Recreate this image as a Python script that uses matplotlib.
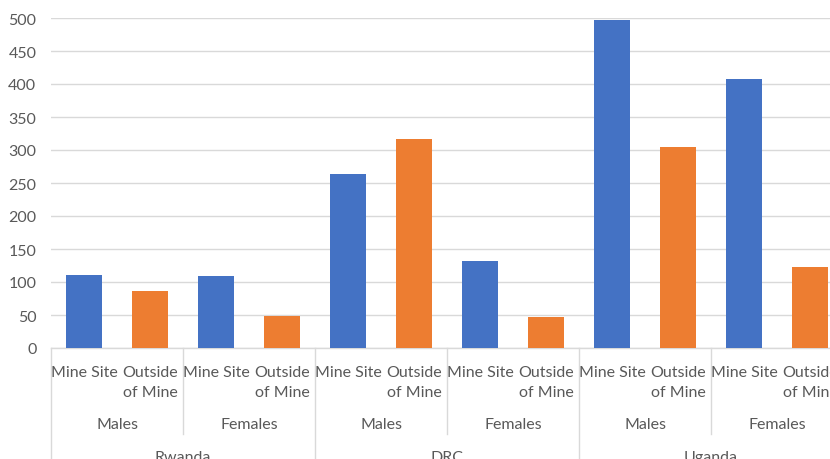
import matplotlib.pyplot as plt
import numpy as np

# survey counts by country / sex / location
countries = ["Rwanda", "DRC", "Uganda"]
sexes = ["Males", "Females"]
locations = ["Mine Site", "Outside\nof Mine"]
mine_site = [110, 109, 264, 132, 497, 408]
outside_mine = [86, 49, 316, 47, 304, 122]

BLUE = "#4472C4"
ORANGE = "#ED7D31"
TEXT = "#595959"
GRID = "#D9D9D9"
FS = 11.5

plt.rcParams["font.family"] = ["Lato", "DejaVu Sans"]

W, H = 830, 460
fig = plt.figure(figsize=(W / 100, H / 100), dpi=100)
# plot area: left edge 51px, baseline 349px, 500 at 19px, 12 slots of 66px
ax = fig.add_axes([51 / W, (H - 349) / H, 12 * 66 / W, 330 / H])

n_groups = len(mine_site)
slots = np.arange(n_groups * 2)
heights = []
colors = []
for m, o in zip(mine_site, outside_mine):
    heights += [m, o]
    colors += [BLUE, ORANGE]
ax.bar(slots + 0.5, heights, width=0.55, color=colors, zorder=3)

ax.set_xlim(0, len(slots))
ax.set_ylim(0, 500)
ax.set_yticks(np.arange(0, 501, 50))
ax.yaxis.grid(True, color=GRID, linewidth=1, zorder=0)
ax.tick_params(axis="y", length=0, pad=10.5, labelsize=11.5, labelcolor=TEXT)
ax.set_xticks([])
for side in ["left", "right", "top"]:
    ax.spines[side].set_visible(False)
ax.spines["bottom"].set_color(GRID)
ax.spines["bottom"].set_linewidth(1)

tr = ax.get_xaxis_transform()
px = lambda p: -(p - 349) / 330  # pixel row -> axes fraction

# location labels under each bar, one line at a time
for i in slots:
    for k, line in enumerate(locations[i % 2].split("\n")):
        ax.text(i + 0.5, px(377 + 20 * k), line, transform=tr, ha="center",
                va="baseline", fontsize=FS, color=TEXT)

# sex labels under each pair
for g in range(n_groups):
    ax.text(2 * g + 1, px(429), sexes[g % 2], transform=tr, ha="center",
            va="baseline", fontsize=FS, color=TEXT)

# country labels
for c, name in enumerate(countries):
    ax.text(4 * c + 2, px(462), name, transform=tr, ha="center",
            va="baseline", fontsize=FS, color=TEXT)

# separators between category groups
for x in range(0, len(slots) + 1, 2):
    bottom = px(470) if x % 4 == 0 else px(435)
    ax.plot([x, x], [0, bottom], transform=tr, color=GRID, linewidth=1,
            clip_on=False)

fig.savefig("out.png", dpi=100)
